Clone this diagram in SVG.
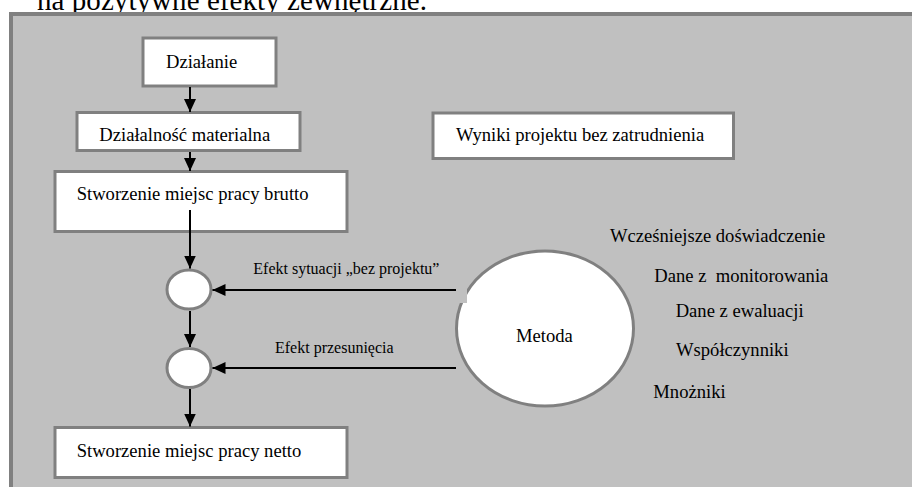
<svg xmlns="http://www.w3.org/2000/svg" width="912" height="487" viewBox="0 0 912 487">
<style>
.box{fill:#ffffff;stroke:#808080;stroke-width:3}
.t{font-family:"Liberation Serif","Times New Roman",serif;font-size:18.6px;fill:#000}
.lbl{font-family:"Liberation Serif","Times New Roman",serif;font-size:16px;fill:#000}
.c{stroke:#000;stroke-width:2;fill:none;marker-end:url(#ah)}
</style>
<defs>
<marker id="ah" markerUnits="userSpaceOnUse" markerWidth="14" markerHeight="12" refX="13" refY="6" orient="auto">
<path d="M0,0 L13,6 L0,12 z" fill="#000"/>
</marker>
</defs>
<rect width="912" height="487" fill="#ffffff"/>
<text class="t" x="37" y="9.5" style="font-size:29px" textLength="390">na pozytywne efekty zewnętrzne.</text>
<rect x="11" y="14" width="920" height="500" fill="#c0c0c0" stroke="#808080" stroke-width="4"/>

<g id="dzialanie"><rect class="box" x="143" y="38" width="133" height="48"/><text class="t" x="166" y="67.5">Działanie</text></g>
<g id="dzialalnosc"><rect class="box" x="77" y="112.5" width="223" height="38"/><text class="t" x="99.3" y="141">Działalność materialna</text></g>
<g id="brutto"><rect class="box" x="55" y="171.5" width="292" height="60"/><text class="t" x="76.7" y="200">Stworzenie miejsc pracy brutto</text></g>
<g id="wyniki"><rect class="box" x="433" y="113" width="300.5" height="45.5"/><text class="t" x="456" y="141">Wyniki projektu bez zatrudnienia</text></g>
<g id="netto"><rect class="box" x="55" y="427.5" width="292" height="50"/><text class="t" x="76.7" y="456.7">Stworzenie miejsc pracy netto</text></g>
<g id="e1"><ellipse class="box" cx="189" cy="289.5" rx="22" ry="19.5"/></g>
<g id="e2"><ellipse class="box" cx="189" cy="368" rx="22" ry="19.5"/></g>
<g id="metoda"><ellipse class="box" cx="545" cy="328.5" rx="88.5" ry="77.5"/><rect x="448" y="272" width="19" height="31" fill="#c0c0c0"/><text class="t" x="516" y="341.7">Metoda</text></g>

<g id="connectors">
<line class="c" x1="190" y1="87" x2="190" y2="112"/>
<line class="c" x1="190" y1="152" x2="190" y2="171"/>
<line class="c" x1="190" y1="210" x2="190" y2="268.5"/>
<line class="c" x1="190" y1="311" x2="190" y2="347"/>
<line class="c" x1="190" y1="389" x2="190" y2="426.5"/>
<line class="c" x1="456" y1="290" x2="212.5" y2="290"/>
<line class="c" x1="456" y1="368" x2="212.5" y2="368"/>
<text class="lbl" x="253.3" y="274.3">Efekt sytuacji „bez projektu”</text>
<text class="lbl" x="275" y="353.3">Efekt przesunięcia</text>
</g>

<g id="sources">
<text class="t" x="610" y="241.7">Wcześniejsze doświadczenie</text>
<text class="t" x="654.3" y="281.7" style="white-space:pre">Dane z  monitorowania</text>
<text class="t" x="675.7" y="317.3">Dane z ewaluacji</text>
<text class="t" x="676" y="355.7">Współczynniki</text>
<text class="t" x="653.3" y="398.3">Mnożniki</text>
</g>
</svg>
